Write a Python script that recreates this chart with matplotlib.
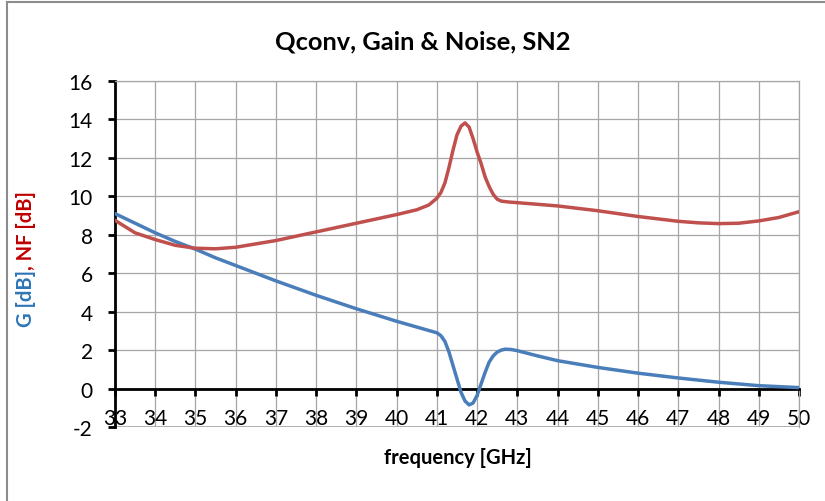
import matplotlib
matplotlib.use("Agg")
import matplotlib.pyplot as plt
from matplotlib.lines import Line2D

# frequency points [GHz] and values
freq_g = [33, 33.5, 34, 34.5, 35, 35.5, 36, 37, 38, 39, 40, 40.5, 40.8, 41, 41.1, 41.2, 41.3,
          41.4, 41.5, 41.6, 41.7, 41.8, 41.9, 42.0, 42.1, 42.2, 42.3, 42.4, 42.5, 42.6, 42.7,
          42.85, 43, 43.5, 44, 45, 46, 47, 48, 49, 50]
gain = [9.1, 8.6, 8.1, 7.65, 7.25, 6.8, 6.4, 5.6, 4.85, 4.15, 3.5, 3.2, 3.02, 2.9, 2.75, 2.45, 1.9,
        1.2, 0.5, -0.2, -0.65, -0.85, -0.75, -0.35, 0.25, 0.85, 1.38, 1.7, 1.9, 2.0, 2.05,
        2.03, 1.97, 1.7, 1.45, 1.1, 0.8, 0.55, 0.33, 0.15, 0.05]

freq_nf = [33, 33.5, 34, 34.5, 35, 35.5, 36, 37, 38, 39, 40, 40.5, 40.8, 41, 41.1, 41.2, 41.3,
           41.4, 41.5, 41.6, 41.7, 41.8, 41.9, 42.0, 42.1, 42.2, 42.3, 42.4, 42.5, 42.6, 42.8,
           43, 44, 45, 46, 47, 47.5, 48, 48.5, 49, 49.5, 50]
nf = [8.75, 8.1, 7.75, 7.45, 7.3, 7.27, 7.35, 7.7, 8.15, 8.6, 9.05, 9.3, 9.55, 9.9, 10.2, 10.7, 11.5,
      12.4, 13.2, 13.65, 13.82, 13.6, 13.0, 12.3, 11.7, 11.0, 10.5, 10.1, 9.85, 9.75, 9.7,
      9.67, 9.5, 9.25, 8.95, 8.7, 8.62, 8.58, 8.6, 8.72, 8.9, 9.2]

x_ticks = list(range(33, 51))
y_ticks = list(range(-2, 17, 2))

blue = "#4A7EBB"
red = "#C0504D"
grid_c = "#A6A6A6"

plt.rcParams["font.family"] = ["Lato", "DejaVu Sans"]
plt.rcParams["axes.unicode_minus"] = False

fig = plt.figure(figsize=(8.25, 5.02), dpi=100)
ax = fig.add_axes([0.1394, 0.1474, 0.8291, 0.6893])

ax.plot(freq_g, gain, color=blue, lw=2.5, solid_capstyle="round", zorder=3)
ax.plot(freq_nf, nf, color=red, lw=2.5, solid_capstyle="round", zorder=3)

ax.set_xlim(33, 50)
ax.set_ylim(-2, 16)
ax.set_xticks(x_ticks)
ax.set_yticks(y_ticks)
ax.grid(True, color=grid_c, lw=0.9)
ax.set_axisbelow(True)

ax.spines["bottom"].set_position(("data", 0))
ax.spines["bottom"].set_color("black")
ax.spines["bottom"].set_linewidth(2)
ax.spines["left"].set_color("black")
ax.spines["left"].set_linewidth(2)
for s in ["top", "right"]:
    ax.spines[s].set_color(grid_c)
    ax.spines[s].set_linewidth(0.9)
ax.axhline(-2, color=grid_c, lw=1.2, zorder=1)

ax.tick_params(axis="x", direction="out", length=5, width=2, labelsize=15, pad=9)
ax.tick_params(axis="y", direction="out", length=5, width=2, labelsize=15, pad=11)

fig.text(0.512, 0.916, "Qconv, Gain & Noise, SN2", ha="center", va="center",
         fontsize=18.3, fontweight="bold")
fig.text(0.555, 0.088, "frequency [GHz]", ha="center", va="center",
         fontsize=14.5, fontweight="bold")

# two-colour y label
t1 = fig.text(0.031, 0.349, "G [dB]", rotation=90, color="#2E75B6", fontsize=14.5,
              fontweight="bold", ha="center", va="bottom")
ax.annotate(", NF [dB]", xy=(0.5, 1.0), xycoords=t1, rotation=90, color="#C00000",
            fontsize=14.5, fontweight="bold", ha="center", va="bottom")

# chart area border (left and top)
fig.add_artist(Line2D([0.0085, 0.0085], [0, 0.994], transform=fig.transFigure, color="#8C8C8C", lw=1.5))
fig.add_artist(Line2D([0.0085, 1], [0.994, 0.994], transform=fig.transFigure, color="#8C8C8C", lw=1.5))

fig.savefig("out.png", dpi=100)
